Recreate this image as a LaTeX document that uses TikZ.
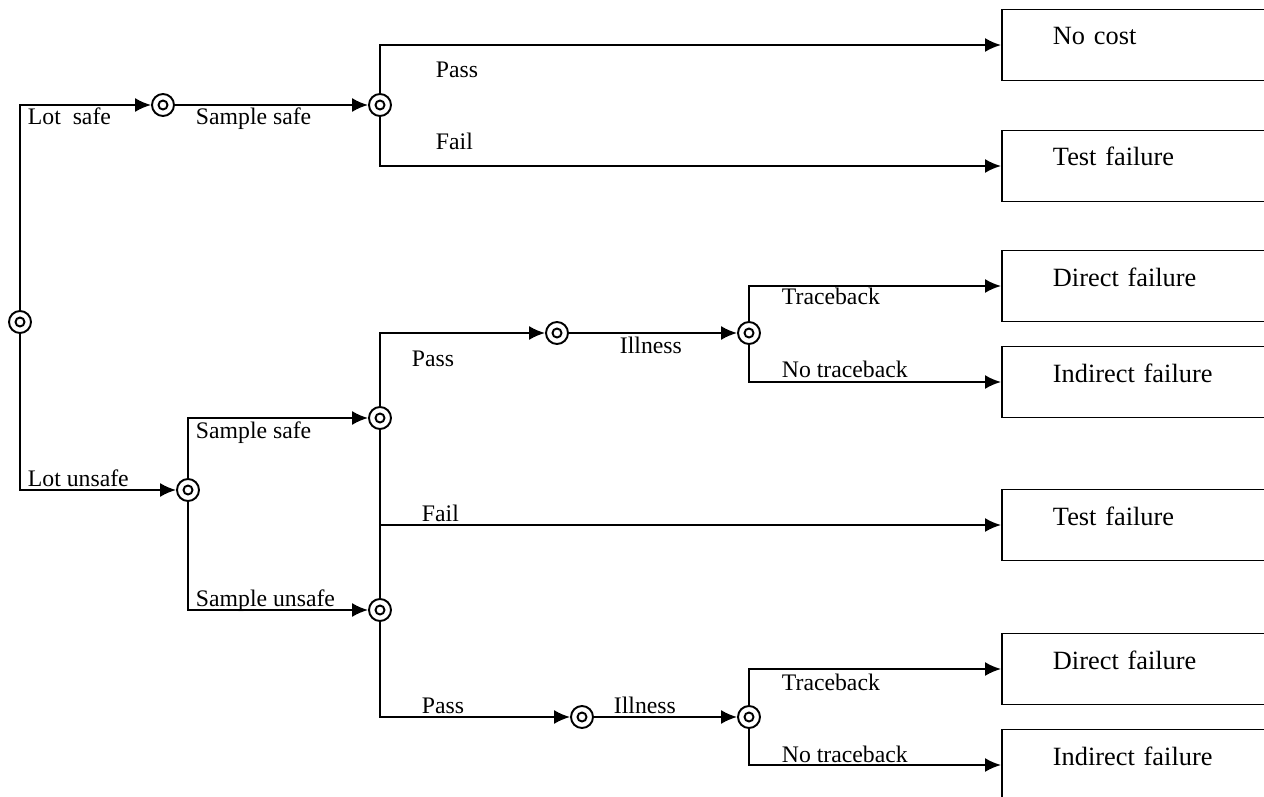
\documentclass[tikz,border=0pt]{standalone}
\usepackage{fontspec}
\setmainfont{Liberation Serif}
\usetikzlibrary{arrows.meta}

\begin{document}
\begin{tikzpicture}[x=0.02cm, y=-0.02cm, >={Latex[length=3.2mm,width=2.8mm]}, line width=1.1pt,
  chance/.style={draw, circle, fill=white, minimum size=4.4mm, inner sep=0pt,
    path picture={\draw[line width=1.1pt] (path picture bounding box.center) circle (0.9mm);}},
  outcome/.style={draw, anchor=west, align=left, text width=40mm, inner xsep=10.2mm,
    minimum height=14.2mm, text height=3mm, text depth=3mm, font=\fontsize{15}{18}\selectfont},
  lbl/.style={anchor=base west, inner sep=0pt, font=\fontsize{13.5}{16}\selectfont}]
\useasboundingbox (0,0) rectangle (1264,797);
% chance nodes
\node[chance] (root) at (20,322) {};
\node[chance] (lsafe) at (163,105) {};
\node[chance] (lsafetest) at (380,105) {};
\node[chance] (lunsafe) at (188,490) {};
\node[chance] (ssafe) at (380,418) {};
\node[chance] (sunsafe) at (380,610) {};
\node[chance] (ssafepass) at (557,333) {};
\node[chance] (ssafeill) at (749,333) {};
\node[chance] (sunsafepass) at (582,717) {};
\node[chance] (sunsafeill) at (749,717) {};
% end states
\node[outcome] (nocost) at (1001,45) {No cost};
\node[outcome] (testfailA) at (1001,166) {Test failure};
\node[outcome] (directA) at (1001,286) {Direct failure};
\node[outcome] (indirectA) at (1001,382) {Indirect failure};
\node[outcome] (testfailB) at (1001,525) {Test failure};
\node[outcome] (directB) at (1001,669) {Direct failure};
\node[outcome] (indirectB) at (1001,765) {Indirect failure};
% branches
\draw[->] (root) |- (lsafe);
\draw[->] (lsafe) -- (lsafetest);
\draw[->] (lsafetest) |- (nocost);
\draw[->] (lsafetest) |- (testfailA);
\draw[->] (root) |- (lunsafe);
\draw[->] (lunsafe) |- (ssafe);
\draw[->] (lunsafe) |- (sunsafe);
\draw[->] (ssafe) |- (ssafepass);
\draw[->] (ssafepass) -- (ssafeill);
\draw[->] (ssafeill) |- (directA);
\draw[->] (ssafeill) |- (indirectA);
\draw[->] (ssafe) |- (testfailB);
\draw (sunsafe) -- (ssafe);
\draw[->] (sunsafe) |- (sunsafepass);
\draw[->] (sunsafepass) -- (sunsafeill);
\draw[->] (sunsafeill) |- (directB);
\draw[->] (sunsafeill) |- (indirectB);
% branch labels
\node[lbl] (tLotSafe) at (27,125) {Lot\ \ safe};
\node[lbl] (tSampleSafeA) at (195,125) {Sample safe};
\node[lbl] (tPassA) at (435,78) {Pass};
\node[lbl] (tFailA) at (435,150) {Fail};
\node[lbl] (tLotUnsafe) at (27,486) {Lot unsafe};
\node[lbl] (tSampleSafeB) at (195,438) {Sample safe};
\node[lbl] (tSampleUnsafe) at (195,606) {Sample unsafe};
\node[lbl] (tPassB) at (411,366) {Pass};
\node[lbl] (tIllnessA) at (619,353) {Illness};
\node[lbl] (tTraceA) at (781,304) {Traceback};
\node[lbl] (tNoTraceA) at (781,377) {No traceback};
\node[lbl] (tFailB) at (421,521) {Fail};
\node[lbl] (tPassC) at (421,713) {Pass};
\node[lbl] (tIllnessB) at (613,713) {Illness};
\node[lbl] (tTraceB) at (781,690) {Traceback};
\node[lbl] (tNoTraceB) at (781,762) {No traceback};
\end{tikzpicture}
\end{document}
